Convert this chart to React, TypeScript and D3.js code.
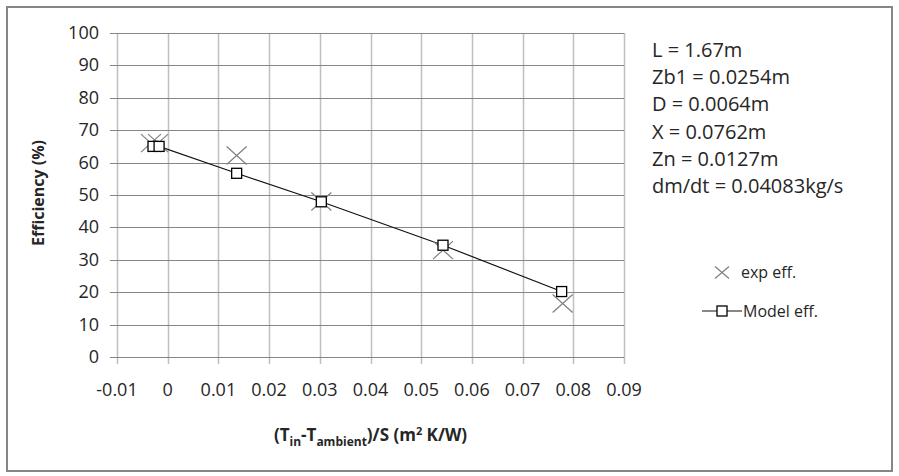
import React, { useRef, useEffect } from "react";
import * as d3 from "d3";

const expX = [-0.0033, -0.0019, 0.0136, 0.0303, 0.0543, 0.0779];
const expY = [66, 66, 62.2, 48, 33, 16.5];
const modelX = [-0.0029, -0.0017, 0.0136, 0.0303, 0.0543, 0.0777];
const modelY = [65, 65, 56.7, 47.9, 34.5, 20.2];

const xTicks = [-0.01, 0, 0.01, 0.02, 0.03, 0.04, 0.05, 0.06, 0.07, 0.08, 0.09];
const yTicks = [0, 10, 20, 30, 40, 50, 60, 70, 80, 90, 100];

const notes = [
    "L = 1.67m",
    "Zb1 = 0.0254m",
    "D = 0.0064m",
    "X = 0.0762m",
    "Zn = 0.0127m",
    "dm/dt = 0.04083kg/s",
];
const legendLabels = ["exp eff.", "Model eff."];

const W = 899;
const H = 476;
const FONT = "'Open Sans', 'Liberation Sans', sans-serif";

const App = () => {
    const svgRef = useRef<SVGSVGElement>(null);

    useEffect(() => {
        const svg = d3.select(svgRef.current);
        svg.selectAll("*").remove();

        const margin = { top: 33, left: 117, right: 624, bottom: 357 };

        const x = d3.scaleLinear().domain([-0.01, 0.09]).range([margin.left, margin.right]);
        const y = d3.scaleLinear().domain([0, 100]).range([margin.bottom, margin.top]);

        // background + outer frame
        svg.append("rect").attr("width", W).attr("height", H).attr("fill", "#fff");
        svg.append("rect")
            .attr("x", 7).attr("y", 7)
            .attr("width", 885).attr("height", 464)
            .attr("fill", "none")
            .attr("stroke", "#868686")
            .attr("stroke-width", 2);

        // vertical gridlines (light) with tick stubs below
        svg.append("g")
            .selectAll("line")
            .data(xTicks)
            .join("line")
            .attr("x1", d => Math.round(x(d)) + 0.5)
            .attr("x2", d => Math.round(x(d)) + 0.5)
            .attr("y1", margin.top)
            .attr("y2", margin.bottom + 7)
            .attr("stroke", "#c0c0c0")
            .attr("stroke-width", 1.5);

        // horizontal gridlines (darker) with tick stubs left
        svg.append("g")
            .selectAll("line")
            .data(yTicks)
            .join("line")
            .attr("x1", margin.left - 7)
            .attr("x2", margin.right)
            .attr("y1", d => Math.round(y(d)) + 0.5)
            .attr("y2", d => Math.round(y(d)) + 0.5)
            .attr("stroke", "#868686")
            .attr("stroke-width", 1.2);

        // y tick labels
        svg.append("g")
            .selectAll("text")
            .data(yTicks)
            .join("text")
            .attr("x", 99)
            .attr("y", d => y(d) + 6)
            .attr("text-anchor", "end")
            .style("font-family", FONT)
            .style("font-size", "18px")
            .attr("fill", "#262626")
            .text(d => d);

        // x tick labels
        svg.append("g")
            .selectAll("text")
            .data(xTicks)
            .join("text")
            .attr("x", d => x(d))
            .attr("y", 396)
            .attr("text-anchor", "middle")
            .style("font-family", FONT)
            .style("font-size", "18px")
            .attr("fill", "#262626")
            .text(d => (d === 0 ? "0" : String(d)));

        // axis titles
        svg.append("text")
            .attr("transform", `translate(44,193) rotate(-90)`)
            .attr("text-anchor", "middle")
            .style("font-family", FONT)
            .style("font-size", "16px")
            .style("font-weight", "bold")
            .attr("fill", "#262626")
            .text("Efficiency (%)");

        const xt = svg.append("text")
            .attr("x", (margin.left + margin.right) / 2)
            .attr("y", 441)
            .attr("text-anchor", "middle")
            .style("font-family", FONT)
            .style("font-size", "17px")
            .style("font-weight", "bold")
            .attr("fill", "#262626");
        xt.append("tspan").text("(T");
        xt.append("tspan").attr("dy", 5).style("font-size", "12px").text("in");
        xt.append("tspan").attr("dy", -5).text("-T");
        xt.append("tspan").attr("dy", 5).style("font-size", "12px").text("ambient");
        xt.append("tspan").attr("dy", -5).text(")/S  (m");
        xt.append("tspan").attr("dy", -6).style("font-size", "11px").text("2");
        xt.append("tspan").attr("dy", 6).text(" K/W)");

        // model line
        const model = modelX.map((v, i) => [v, modelY[i]] as [number, number]);
        svg.append("path")
            .datum(model)
            .attr("d", d3.line<[number, number]>().x(d => x(d[0])).y(d => y(d[1])))
            .attr("fill", "none")
            .attr("stroke", "#111")
            .attr("stroke-width", 1.2);

        // exp markers (X)
        const cross = (g, cx, cy, rx, ry) => {
            g.append("path")
                .attr("d", `M${cx - rx},${cy - ry}L${cx + rx},${cy + ry}M${cx - rx},${cy + ry}L${cx + rx},${cy - ry}`)
                .attr("stroke", "#7f7f7f")
                .attr("stroke-width", 1.2)
                .attr("fill", "none");
        };
        const expG = svg.append("g");
        expX.forEach((v, i) => cross(expG, x(v), y(expY[i]), 10, 9));

        // model markers (squares)
        svg.append("g")
            .selectAll("rect")
            .data(model)
            .join("rect")
            .attr("x", d => x(d[0]) - 5)
            .attr("y", d => y(d[1]) - 5)
            .attr("width", 10)
            .attr("height", 10)
            .attr("fill", "#fff")
            .attr("stroke", "#000")
            .attr("stroke-width", 1.3);

        // parameter notes
        svg.append("g")
            .selectAll("text")
            .data(notes)
            .join("text")
            .attr("x", 652)
            .attr("y", (d, i) => 57 + i * 27.2)
            .style("font-family", FONT)
            .style("font-size", "20px")
            .attr("fill", "#262626")
            .text(d => d);

        // legend
        const leg = svg.append("g");
        cross(leg, 722, 272.5, 7, 6);
        leg.append("line")
            .attr("x1", 702).attr("x2", 742)
            .attr("y1", 311).attr("y2", 311)
            .attr("stroke", "#111").attr("stroke-width", 1.2);
        leg.append("rect")
            .attr("x", 717).attr("y", 306)
            .attr("width", 10).attr("height", 10)
            .attr("fill", "#fff").attr("stroke", "#000").attr("stroke-width", 1.3);
        leg.selectAll("text.lg")
            .data(legendLabels)
            .join("text")
            .attr("class", "lg")
            .attr("x", (d, i) => (i === 0 ? 741 : 743))
            .attr("y", (d, i) => (i === 0 ? 278 : 317))
            .style("font-family", FONT)
            .style("font-size", "16px")
            .attr("fill", "#262626")
            .text(d => d);
    }, []);

    return (
        <svg
            ref={svgRef}
            width={W}
            height={H}
            style={{ position: "absolute", left: 0, top: 0, display: "block" }}
        ></svg>
    );
};

export default App;
